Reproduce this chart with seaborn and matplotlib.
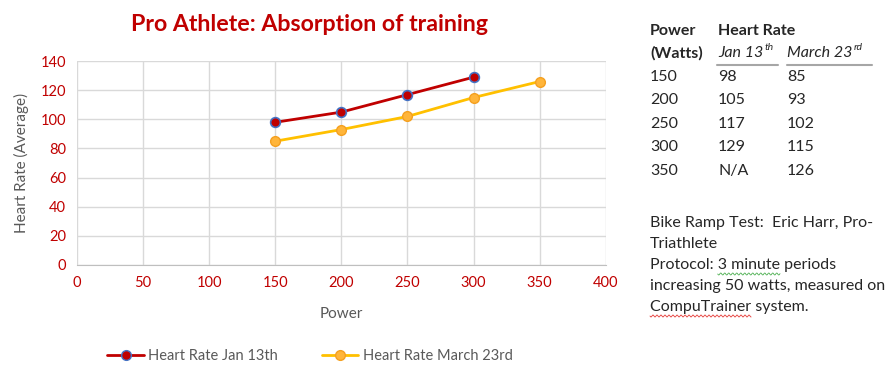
import matplotlib.pyplot as plt
import numpy as np
import pandas as pd
import seaborn as sns
from matplotlib.lines import Line2D

power = [150, 200, 250, 300, 350]
hr_jan = [98, 105, 117, 129, None]
hr_mar = [85, 93, 102, 115, 126]
jan_label = "Heart Rate Jan 13th"
mar_label = "Heart Rate March 23rd"
x_ticks = [0, 50, 100, 150, 200, 250, 300, 350, 400]
y_ticks = [0, 20, 40, 60, 80, 100, 120, 140]

RED = "#C00000"
GOLD = "#FFC000"
GRAY = "#595959"

sns.set_style("white")
plt.rcParams["font.family"] = ["Lato", "DejaVu Sans"]

df = pd.DataFrame({"power": power, "jan": hr_jan, "mar": hr_mar})

fig = plt.figure(figsize=(8.96, 3.8), dpi=100)
ax = fig.add_axes([0.086, 0.303, 0.590, 0.536])

sns.lineplot(data=df, x="power", y="jan", ax=ax, color=RED, linewidth=2,
             marker="o", markersize=7, markerfacecolor=RED,
             markeredgecolor="#4472C4", markeredgewidth=1.2)
sns.lineplot(data=df, x="power", y="mar", ax=ax, color=GOLD, linewidth=2,
             marker="o", markersize=7, markerfacecolor="#FFB53A",
             markeredgecolor="#F4A020", markeredgewidth=1.0)

ax.set_xlim(0, 400)
ax.set_ylim(0, 140)
ax.set_xticks(x_ticks)
ax.set_yticks(y_ticks)
ax.grid(True, color="#D9D9D9", linewidth=1)
for s in ["top", "right", "left"]:
    ax.spines[s].set_visible(False)
ax.spines["bottom"].set_color("#BFBFBF")
ax.tick_params(axis="both", colors=RED, labelsize=10.5, length=0, pad=8)
ax.set_xlabel("Power", color=GRAY, fontsize=11, labelpad=12)
ax.set_ylabel("Heart Rate (Average)", color=GRAY, fontsize=11, labelpad=8)

fig.text(0.345, 0.935, "Pro Athlete: Absorption of training", color=RED,
         fontsize=16.7, fontweight="bold", ha="center", va="center")

handles = [
    Line2D([], [], color=RED, linewidth=2, marker="o", markersize=7,
           markerfacecolor=RED, markeredgecolor="#4472C4"),
    Line2D([], [], color=GOLD, linewidth=2, marker="o", markersize=7,
           markerfacecolor="#FFB53A", markeredgecolor="#F4A020"),
]
fig.legend(handles, [jan_label, mar_label], loc="center", ncol=2,
           bbox_to_anchor=(0.346, 0.063), frameon=False, fontsize=10.5,
           labelcolor=GRAY, columnspacing=3, handlelength=2.5, handletextpad=0.3)

# side table
W, H = 896, 380


def put(x, y, s, size=11.5, **kw):
    return fig.text(x / W, 1 - y / H, s, fontsize=size, va="center", ha="left", **kw)


fig.canvas.draw()
r = fig.canvas.get_renderer()


def width_px(s, **kw):
    t = put(0, 0, s, **kw)
    w = t.get_window_extent(r).width
    t.remove()
    return w


put(650, 31, "Power", fontweight="bold")
put(718, 31, "Heart Rate", fontweight="bold")
put(650, 53, "(Watts)", fontweight="bold")
put(718, 53, "Jan 13", style="italic")
put(718 + width_px("Jan 13", style="italic") + 1, 48, "th", size=7.5, style="italic")
put(787, 53, "March 23", style="italic")
put(787 + width_px("March 23", style="italic") + 1, 48, "rd", size=7.5, style="italic")
fig.add_artist(Line2D([717 / W, 778 / W], [1 - 65 / H] * 2, color="#A6A6A6", linewidth=1.5))
fig.add_artist(Line2D([787 / W, 872 / W], [1 - 65 / H] * 2, color="#A6A6A6", linewidth=1.5))

row_y = [77, 100, 124, 147, 171]
for y, p, j, m in zip(row_y, power, hr_jan, hr_mar):
    put(650, y, str(p))
    put(718, y, "N/A" if j is None else str(j))
    put(787, y, str(m))

notes = [
    "Bike Ramp Test:  Eric Harr, Pro-",
    "Triathlete",
    "Protocol: 3 minute periods",
    "increasing 50 watts, measured on",
    "CompuTrainer system.",
]
for i, line in enumerate(notes):
    put(650, 223 + i * 21, line)


# spell-check squiggles
def squiggle(x0, x1, y, color):
    xs = np.linspace(x0, x1, int((x1 - x0) * 2) + 2)
    ys = y + 1.0 * np.sin((xs - x0) * np.pi / 2)
    fig.add_artist(Line2D(xs / W, 1 - ys / H, color=color, linewidth=0.6))


a = 650 + width_px("Protocol: ")
b = a + width_px("3 minute")
squiggle(a, b, 223 + 2 * 21 + 9, "#4CAF50")
squiggle(650, 650 + width_px("CompuTrainer"), 223 + 4 * 21 + 9, "#E53935")

plt.savefig("out.png", dpi=100)
